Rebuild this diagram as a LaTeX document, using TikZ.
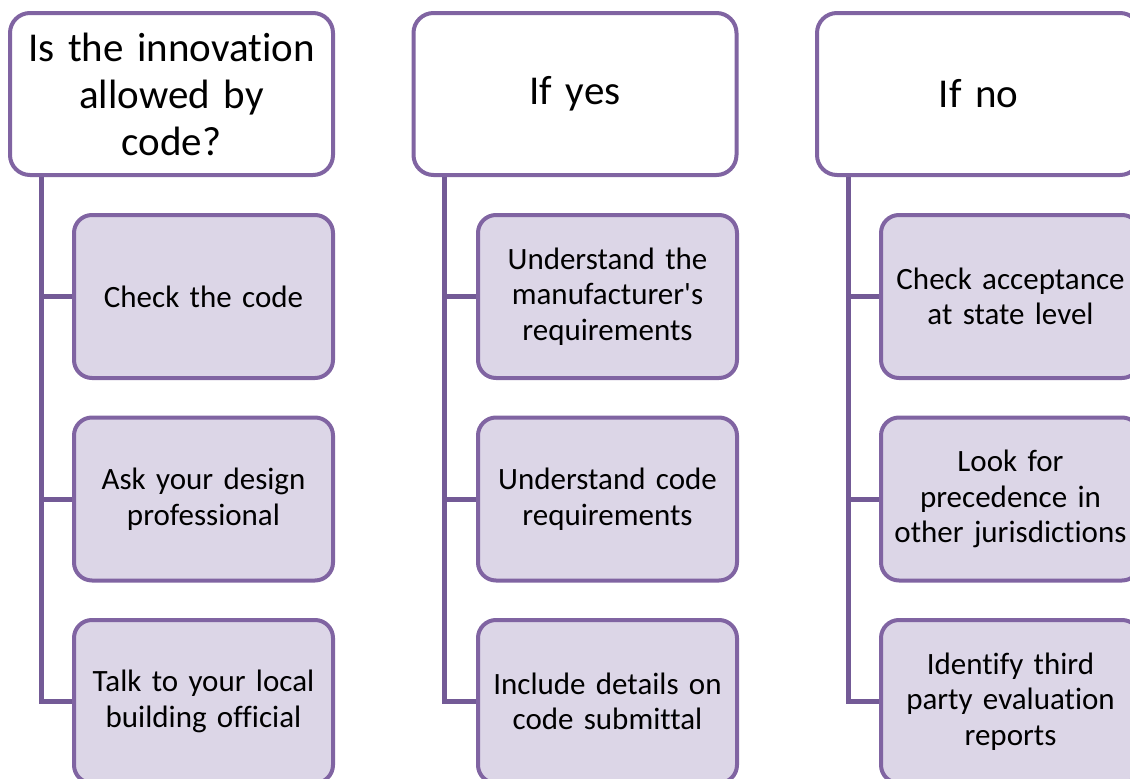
\documentclass[tikz,border=0pt]{standalone}
\usepackage{fontspec}
\setmainfont{Carlito}[Ligatures={TeXOff,NoCommon}]
\usetikzlibrary{calc,backgrounds}
\definecolor{bord}{HTML}{8064A2}
\definecolor{fillc}{HTML}{DCD6E7}
\definecolor{conn}{HTML}{735A96}
\begin{document}
\begin{tikzpicture}[x=1pt,y=-1pt,
  head/.style={draw=bord, line width=4pt, rounded corners=20pt, fill=white,
    minimum width=323pt, minimum height=162pt, inner sep=0pt, align=center,
    text width=315pt, font=\fontsize{41}{47}\selectfont},
  kid/.style={draw=bord, line width=4pt, rounded corners=18pt, fill=fillc,
    minimum width=259pt, minimum height=163pt, inner sep=0pt, align=center,
    text width=255pt, font=\fontsize{31}{35.5}\selectfont},
  link/.style={draw=conn, line width=5pt}]
\useasboundingbox (0,0) rectangle (1130,779);
\clip (0,0) rectangle (1130,779);

\node[head] (h1) at (171.5,94) {Is the innovation\\allowed by\\code?};
\node[head] (h2) at (575,94) {If yes};
\node[head] (h3) at (978.5,94) {If no};

\node[kid] (k11) at (203.5,296.5) {Check the code};
\node[kid] (k12) at (203.5,499) {Ask your design\\professional};
\node[kid] (k13) at (203.5,701.5) {Talk to your local\\building official};

\node[kid] (k21) at (607.5,296.5) {Understand the\\manufacturer's\\requirements};
\node[kid] (k22) at (607.5,499) {Understand code\\requirements};
\node[kid] (k23) at (607.5,701.5) {Include details on\\code submittal};

\node[kid] (k31) at (1010.5,296.5) {Check acceptance\\at state level};
\node[kid] (k32) at (1010.5,499) {Look for\\precedence in\\other jurisdictions};
\node[kid] (k33) at (1010.5,701.5) {Identify third\\party evaluation\\reports};

\coordinate (c1) at ($(h1.south west)+(33,0)$);
\coordinate (c2) at ($(h2.south west)+(33,0)$);
\coordinate (c3) at ($(h3.south west)+(33,0)$);

\begin{scope}[on background layer]
\foreach \i in {1,2,3}{
  \draw[link] (c\i) |- (k\i3.west);
  \draw[link] (c\i |- k\i1.west) -- (k\i1.west);
  \draw[link] (c\i |- k\i2.west) -- (k\i2.west);
}
\end{scope}
\end{tikzpicture}
\end{document}
